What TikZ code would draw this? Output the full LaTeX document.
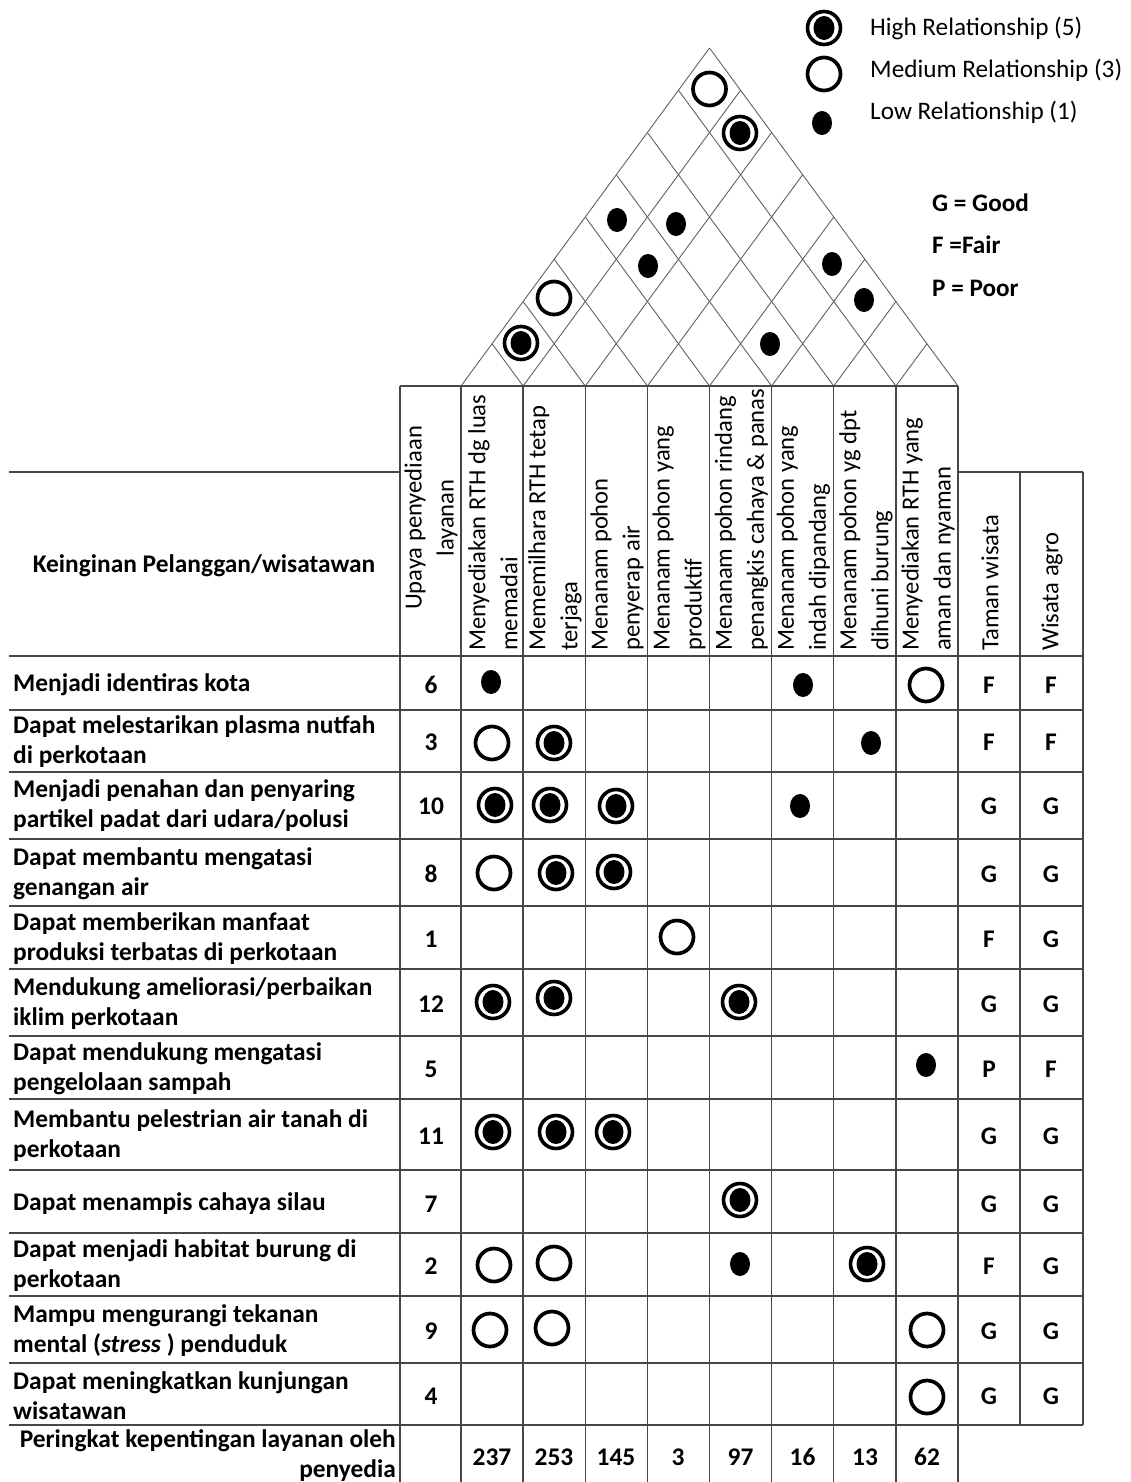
\documentclass[tikz,border=0pt]{standalone}
\usepackage{fontspec}
\setmainfont{Carlito}
\usetikzlibrary{shapes.geometric}
\begin{document}
\begin{tikzpicture}[x=1pt,y=-1pt,
  gridline/.style={draw=black!72, line width=1.3pt},
  roofline/.style={draw=black!62, line width=0.9pt},
  lbl/.style={font=\fontsize{25.4}{30}\selectfont\bfseries, align=left, anchor=west, inner sep=0pt},
  num/.style={font=\fontsize{25.4}{30}\selectfont\bfseries, inner sep=0pt},
  hdr/.style={font=\fontsize{24.6}{32}\selectfont, rotate=90, anchor=west, align=left, inner sep=0pt},
  leg/.style={font=\fontsize{25.2}{30}\selectfont, anchor=west, inner sep=0pt},
  hi/.style={circle, draw, line width=3.6pt, minimum size=33pt, inner sep=0pt,
     path picture={\fill (path picture bounding box.center) ellipse (10.5pt and 12pt);}},
  med/.style={circle, draw, line width=3.7pt, minimum size=33pt, inner sep=0pt},
  low/.style={ellipse, fill, minimum width=20pt, minimum height=24pt, inner sep=0pt}]
\useasboundingbox (0,0) rectangle (1131,1482);

% ---------- roof ----------
\foreach \k in {0,...,8} {
  \pgfmathsetmacro\xk{461+62.125*\k}
  \pgfmathsetmacro\yl{386-(\xk-461)*0.68008}
  \pgfmathsetmacro\yr{386-(958-\xk)*0.68008}
  \draw[roofline] (\xk,386) -- ({(461+\xk)/2},\yl);
  \draw[roofline] (\xk,386) -- ({(958+\xk)/2},\yr);
}
\node[med] (rf18) at (709.5,89) {};
\node[hi]  (rf28) at (740,133) {};
\node[low] (rf15) at (617,220) {};
\node[low] (rf26) at (676,224) {};
\node[low] (rf25) at (648,266) {};
\node[low] (rf58) at (832,264) {};
\node[low] (rf68) at (864,300) {};
\node[low] (rf56) at (770,344) {};
\node[med] (rf13) at (554,298) {};
\node[hi]  (rf12) at (521,343) {};

% ---------- legend ----------
\node[hi]  (lghi) at (824,28) {};
\node[med] (lgmed) at (824,74) {};
\node[low] (lglow) at (822,123) {};
\node[leg] (lt1) at (870,28) {High Relationship (5)};
\node[leg] (lt2) at (870,70) {Medium Relationship (3)};
\node[leg] (lt3) at (870,112) {Low Relationship (1)};
\node[leg, font=\fontsize{25.2}{30}\selectfont\bfseries] (g1) at (932,203) {G = Good};
\node[leg, font=\fontsize{25.2}{30}\selectfont\bfseries] (g2) at (932,245) {F =Fair};
\node[leg, font=\fontsize{25.2}{30}\selectfont\bfseries] (g3) at (932,288) {P = Poor};

% ---------- table lines ----------
\draw[gridline] (400,386) -- (958,386);
\draw[gridline] (9,472) -- (400,472);
\draw[gridline] (958,472) -- (1083,472);
\foreach \y in {656,710,772,839,906,969,1036,1099,1170,1233,1296,1363,1425}
  \draw[gridline] (9,\y) -- (1083,\y);
\foreach \x in {400,461,523.125,585.25,647.375,709.5,771.625,833.75,895.875,958}
  \draw[gridline] (\x,386) -- (\x,1482);
\draw[gridline] (1020,472) -- (1020,1425);
\draw[gridline] (1083,472) -- (1083,1425);

% ---------- header ----------
\node[lbl, anchor=center, align=center] (kp) at (204,566) {Keinginan Pelanggan/wisatawan};
\node[hdr, anchor=center, align=center] (h0) at (431,518) {Upaya penyediaan\\layanan};
\node[hdr] (h1) at (493,651) {Menyediakan RTH dg luas\\memadai};
\node[hdr] (h2) at (555,651) {Mememilhara RTH tetap\\terjaga};
\node[hdr] (h3) at (617,651) {Menanam pohon\\penyerap air};
\node[hdr] (h4) at (679,651) {Menanam pohon yang\\produktif};
\node[hdr] (h5) at (741.5,651) {Menanam pohon rindang\\penangkis cahaya \& panas};
\node[hdr] (h6) at (803.5,651) {Menanam pohon yang\\indah dipandang};
\node[hdr] (h7) at (866,651) {Menanam pohon yg dpt\\dihuni burung};
\node[hdr] (h8) at (928,651) {Menyediakan RTH yang\\aman dan nyaman};
\node[hdr] (h9) at (990,651) {Taman wisata};
\node[hdr] (h10) at (1052,651) {Wisata agro};

% ---------- rows ----------
\node[lbl] (l1) at (13,685) {Menjadi identiras kota};
\node[lbl] (l2) at (13,742) {Dapat melestarikan plasma nutfah\\di perkotaan};
\node[lbl] (l3) at (13,806) {Menjadi penahan dan penyaring\\partikel padat dari udara/polusi};
\node[lbl] (l4) at (13,874) {Dapat membantu mengatasi\\genangan air};
\node[lbl] (l5) at (13,939) {Dapat memberikan manfaat\\produksi terbatas di perkotaan};
\node[lbl] (l6) at (13,1004) {Mendukung ameliorasi/perbaikan\\iklim perkotaan};
\node[lbl] (l7) at (13,1069) {Dapat mendukung mengatasi\\pengelolaan sampah};
\node[lbl] (l8) at (13,1136) {Membantu pelestrian air tanah di\\perkotaan};
\node[lbl] (l9) at (13,1204) {Dapat menampis cahaya silau};
\node[lbl] (l10) at (13,1266) {Dapat menjadi habitat burung di\\perkotaan};
\node[lbl] (l11) at (13,1331) {Mampu mengurangi tekanan\\mental (\textit{stress} ) penduduk};
\node[lbl] (l12) at (13,1396) {Dapat meningkatkan kunjungan\\wisatawan};
\node[lbl, anchor=north east, align=right] (l13) at (396,1429) {Peringkat kepentingan layanan oleh\\penyedia};

% importance
\foreach \v/\y [count=\i] in {6/685,3/742,10/806,8/874,1/939,12/1004,5/1069,11/1136,7/1204,2/1266,9/1331,4/1396}
  \node[num] (n\i) at (431,\y) {\v};
% G/F/P
\foreach \a/\b/\y [count=\i] in {F/F/685,F/F/742,G/G/806,G/G/874,F/G/939,G/G/1004,P/F/1069,G/G/1136,G/G/1204,F/G/1266,G/G/1331,G/G/1396} {
  \node[num] (ta\i) at (989,\y) {\a};
  \node[num] (wa\i) at (1051,\y) {\b};
}
% totals
\foreach \v/\x [count=\i] in {237/492,253/554,145/616,3/678,97/740.5,16/802.5,13/865,62/927}
  \node[num] (s\i) at (\x,1457) {\v};

% ---------- relationship symbols ----------
\node[low] (m1a) at (491,682) {};
\node[low] (m1f) at (803,685) {};
\node[med] (m1h) at (926,685) {};
\node[med] (m2a) at (492,743) {};
\node[hi]  (m2b) at (554,743) {};
\node[low] (m2g) at (871,743) {};
\node[hi]  (m3a) at (495,805) {};
\node[hi]  (m3b) at (550,805) {};
\node[hi]  (m3c) at (616,806) {};
\node[low] (m3f) at (800,806) {};
\node[med] (m4a) at (494,873) {};
\node[hi]  (m4b) at (556,873) {};
\node[hi]  (m4c) at (614,872) {};
\node[med] (m5d) at (677,937) {};
\node[hi]  (m6a) at (493,1002) {};
\node[hi]  (m6b) at (554,998) {};
\node[hi]  (m6e) at (739,1002) {};
\node[low] (m7h) at (926,1065) {};
\node[hi]  (m8a) at (493,1132) {};
\node[hi]  (m8b) at (556,1132) {};
\node[hi]  (m8c) at (613,1132) {};
\node[hi]  (m9e) at (740,1200) {};
\node[med] (m10a) at (494,1265) {};
\node[med] (m10b) at (554,1263) {};
\node[low] (m10e) at (740,1264) {};
\node[hi]  (m10g) at (867,1264) {};
\node[med] (m11a) at (490,1330) {};
\node[med] (m11b) at (552,1328) {};
\node[med] (m11h) at (927,1330) {};
\node[med] (m12h) at (927,1397) {};
\end{tikzpicture}
\end{document}
